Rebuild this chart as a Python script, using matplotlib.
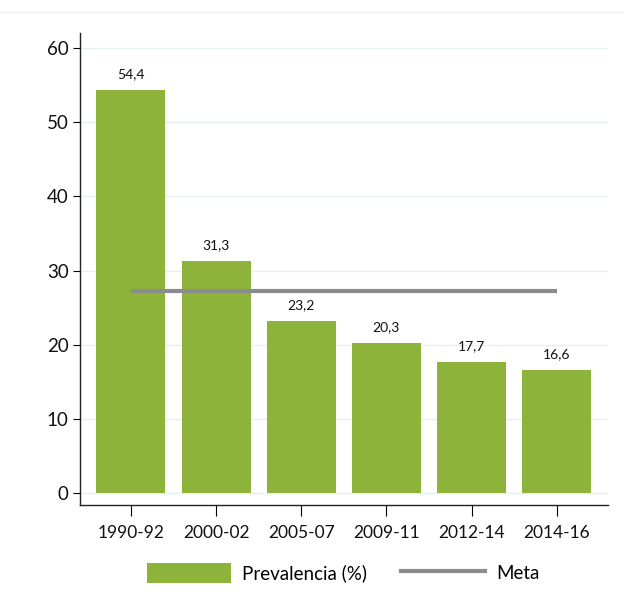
import matplotlib
matplotlib.use("Agg")
import matplotlib.pyplot as plt
from matplotlib.patches import Patch
from matplotlib.lines import Line2D
import numpy as np

# data
periods = ["1990-92", "2000-02", "2005-07", "2009-11", "2012-14", "2014-16"]
prevalence = [54.4, 31.3, 23.2, 20.3, 17.7, 16.6]
meta = [27.2, 27.2, 27.2, 27.2, 27.2, 27.2]
yticks = [0, 10, 20, 30, 40, 50, 60]

green = "#8db33a"
gray = "#8c8c8c"

plt.rcParams['font.family'] = ['Lato', 'DejaVu Sans']

fig = plt.figure(figsize=(6.24, 6.13), dpi=100)
ax = fig.add_axes([0.128, 0.176, 0.846, 0.770])

x = np.arange(len(periods))
ax.bar(x, prevalence, width=0.81, color=green, zorder=2)
ax.plot(x, meta, color=gray, linewidth=3, zorder=3, solid_capstyle='butt')

for xi, v in zip(x, prevalence):
    ax.text(xi, v + 1.3, f"{v:.1f}".replace(".", ","), ha='center', va='bottom',
            fontsize=10, color='#111111')

ax.set_xlim(-0.6, 5.6)
ax.set_ylim(-1.6, 62)
ax.set_yticks(yticks)
ax.set_xticks(x)
ax.set_xticklabels(periods)
ax.tick_params(axis='y', labelsize=13.5, length=5, direction='out', pad=3,
               labelcolor='#111111')
ax.tick_params(axis='x', labelsize=12.5, length=8, direction='out', pad=6,
               labelcolor='#111111')

ax.grid(axis='y', color='#e8eff3', linewidth=1, zorder=0)
ax.set_axisbelow(True)
for s in ['top', 'right']:
    ax.spines[s].set_visible(False)
for s in ['left', 'bottom']:
    ax.spines[s].set_linewidth(1)
    ax.spines[s].set_color('#222222')

# faint frame line at top of the figure
fig.add_artist(Line2D([0, 1], [1 - 12 / 613, 1 - 12 / 613], color='#eef2f4', linewidth=1))

handles = [Patch(facecolor=green, edgecolor='none'),
           Line2D([], [], color=gray, linewidth=3)]
fig.legend(handles, ["Prevalencia (%)", "Meta"], loc='center',
           bbox_to_anchor=(0.55, 1 - 573 / 613), ncol=2, frameon=False,
           fontsize=13.5, handlelength=4.5, handleheight=1.25,
           handletextpad=0.6, columnspacing=1.8)

plt.savefig("out.png", dpi=100)
